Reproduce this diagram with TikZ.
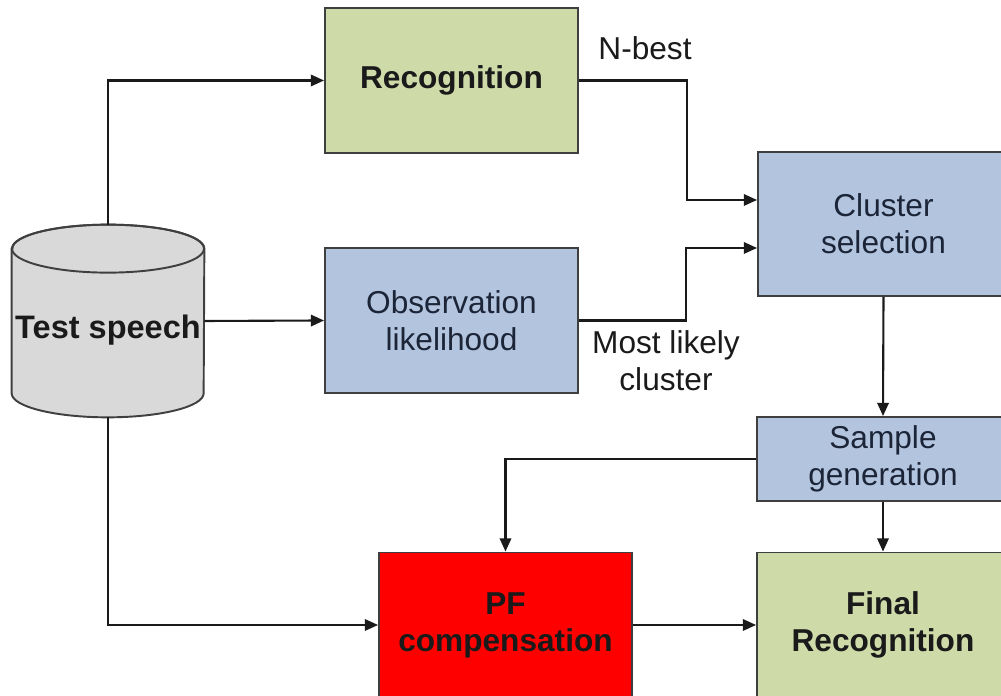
\documentclass[tikz,border=0pt]{standalone}
\usepackage{fontspec}
\setmainfont{Liberation Sans}
\usetikzlibrary{positioning,arrows.meta}
\definecolor{ink}{HTML}{1A1A1A}
\definecolor{navyink}{HTML}{1C2538}
\definecolor{edge}{HTML}{3F3F3F}
\definecolor{leaf}{HTML}{CEDBA9}
\definecolor{steel}{HTML}{B3C4DE}
\definecolor{drum}{HTML}{D9D9D9}
\definecolor{hot}{HTML}{FF0000}

\begin{document}
\begin{tikzpicture}[
          b/.style={draw=edge, line width=1.1pt, fill=steel, inner sep=0pt,
                    minimum width=5.06cm, minimum height=2.9cm, align=center,
                    font=\fontsize{18}{21}\selectfont, text=navyink},
          bb/.style={b, fill=leaf, font=\fontsize{18}{21}\selectfont\bfseries, text=ink},
          w/.style={font=\fontsize{18}{21}\selectfont, text=ink, align=center},
          link/.style={-{Triangle[length=7.5pt,width=6.5pt]}, line width=1.2pt, ink}]
        \useasboundingbox (0,0) rectangle (20.02,13.92);
        % test speech store
        \node[minimum width=3.84cm, minimum height=3.84cm, inner sep=0pt] (db) at (2.16,7.5) {};
        \filldraw[fill=drum, draw=edge, line width=1.1pt]
          ([yshift=-0.48cm]db.north west) -- ([yshift=0.48cm]db.south west)
          arc[start angle=180, end angle=360, x radius=1.92cm, y radius=0.48cm]
          -- ([yshift=-0.48cm]db.north east)
          arc[start angle=0, end angle=180, x radius=1.92cm, y radius=0.48cm] -- cycle;
        \draw[edge, line width=1.1pt] ([yshift=-0.48cm]db.north)
          ellipse[x radius=1.92cm, y radius=0.48cm];
        \node[w, font=\fontsize{18.5}{21}\selectfont\bfseries] (dbt) at (2.16,7.32) {Test speech};
        \node[bb] (rec) at (9.03,12.31) {Recognition};
        \node[b] (obs) at (9.03,7.51) {Observation\\likelihood};
        \node[b, minimum width=5.02cm, minimum height=2.88cm] (clus) at (17.67,9.44) {Cluster\\selection};
        \node[b, minimum width=5.04cm, minimum height=1.68cm] (samp) at (17.66,4.74) {Sample\\generation};
        \node[bb, fill=hot] (pf) at (10.11,1.42) {PF\\compensation};
        \node[bb, minimum width=5.04cm] (fin) at (17.66,1.42) {Final\\Recognition};
        \node[w] (nbl) at (12.9,12.96) {N-best};
        \node[w] (mll) at (13.32,6.70) {Most likely\\cluster};
        \coordinate (nbest) at (13.74,9.92);
        \coordinate (mlc) at (13.72,8.96);
        \draw[link] (db.north) |- (rec.west);
        \draw[link] (db.east) -- (obs.west);
        \draw[link] (db.south) |- (pf.west);
        \draw[link] (rec.east) -| (nbest) -- (clus.west |- nbest);
        \draw[link] (obs.east) -| (mlc) -- (clus.west |- mlc);
        \draw[link] (clus.south) -- (samp.north);
        \draw[link] (samp.west) -| (pf.north);
        \draw[link] (samp.south) -- (fin.north);
        \draw[link] (pf.east) -- (fin.west);
      \end{tikzpicture}
\end{document}
